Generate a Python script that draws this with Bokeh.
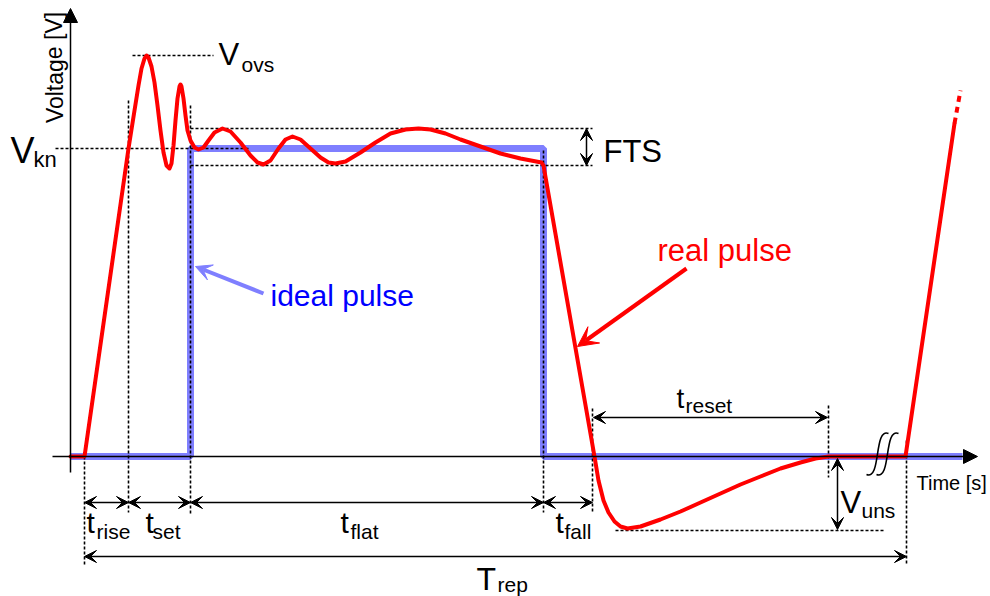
from bokeh.plotting import figure
from bokeh.models import Range1d, Arrow, VeeHead, NormalHead, ColumnDataSource
from bokeh.core.properties import value
from bokeh.embed import file_html
from bokeh.resources import INLINE

FONT = "Liberation Sans"

# ---- real pulse (time, voltage) (screen units, y grows downward)
real_t = [70, 84, 128, 134, 138, 141, 144, 146, 148, 151, 154, 157, 160, 163, 166, 169,
          171, 173, 175, 177, 179, 180, 181, 183, 185, 187, 190, 194, 198, 203, 208, 214,
          222, 230, 240, 250, 257, 263, 270, 278, 285, 292, 300, 310, 320, 328, 335, 345,
          360, 375, 390, 405, 418, 430, 445, 460, 480, 500, 520, 541, 543, 594, 598, 603,
          608, 614, 620, 627, 640, 660, 680, 700, 720, 740, 760, 780, 800, 815, 828, 905, 954]
real_v = [456, 456, 148, 110, 85, 68, 58, 55, 57, 66, 82, 105, 130, 152, 165, 168,
          163, 145, 120, 98, 86, 84, 86, 98, 115, 130, 140, 147, 149, 147, 140, 132,
          128, 131, 142, 155, 162, 164, 160, 148, 139, 136, 139, 148, 157, 162, 163, 161,
          152, 142, 133, 129, 128, 129, 133, 139, 146, 153, 158, 162, 165, 456, 480, 500,
          512, 521, 526, 528, 526, 519, 511, 502, 493, 484, 476, 468, 462, 458, 456, 456, 123]
real_cont_t = [954, 960]
real_cont_v = [123, 90]

# ---- ideal pulse
ideal_t = [70, 190, 190, 543, 543, 962]
ideal_v = [456, 456, 148, 148, 456, 456]

# ---- guide lines (dotted)
guide_x0 = [84, 128, 190, 543, 592, 828, 906, 132, 55, 190, 190, 615]
guide_y0 = [456, 100, 105, 150, 408, 405, 440, 55, 148, 128, 165, 530]
guide_x1 = [84, 128, 190, 543, 592, 828, 906, 213, 250, 592, 592, 883]
guide_y1 = [565, 512, 515, 512, 512, 477, 565, 55, 148, 128, 165, 530]

# ---- dimension arrows (FTS, Vuns, treset, trise, tset, tflat, tfall, Trep)
dim_x0 = [586, 837, 593, 84, 128, 190, 543, 84]
dim_y0 = [128, 458, 417, 502, 502, 502, 502, 556]
dim_x1 = [586, 837, 827, 128, 190, 543, 592, 906]
dim_y1 = [165, 529, 417, 502, 502, 502, 502, 556]

# ---- labels: main symbol + subscript
sym_text = ["V", "V", "t", "t", "t", "t", "T", "t", "V"]
sym_x = [218, 10, 86, 145, 340, 555, 476, 676, 840]
sym_y = [65, 162, 532, 532, 532, 532, 589, 408, 513]
sym_size = [31, 36, 30, 30, 30, 30, 32, 28, 31]
sub_text = ["ovs", "kn", "rise", "set", "flat", "fall", "rep", "reset", "uns"]
sub_x = [241, 33, 96, 152, 350, 564, 497, 685, 861]
sub_y = [71, 166, 538, 538, 538, 538, 591, 412, 517]
sub_size = [21, 22, 21, 21, 21, 21, 21, 21, 21]

plain_text = ["FTS", "real pulse", "ideal pulse", "Time [s]"]
plain_x = [603, 657, 270, 916]
plain_y = [162, 261, 305, 489]
plain_size = [31, 31, 30, 20]
plain_color = ["black", "red", "blue", "black"]

p = figure(width=990, height=596, x_range=Range1d(0, 990), y_range=Range1d(596, 0),
           output_backend="svg", toolbar_location=None,
           x_axis_location=None, y_axis_location=None,
           min_border=0, min_border_left=0, min_border_right=0,
           min_border_top=0, min_border_bottom=0)
p.grid.visible = False
p.outline_line_color = None
p.background_fill_color = "white"

# axes
p.add_layout(Arrow(end=NormalHead(size=14, fill_color="black", line_color="black"),
                   x_start=52, y_start=456, x_end=977, y_end=456, line_width=1.5))
p.add_layout(Arrow(end=NormalHead(size=14, fill_color="black", line_color="black"),
                   x_start=70, y_start=472, x_end=70, y_end=8, line_width=1.5))

# ideal pulse
p.line(ideal_t, ideal_v, line_color="blue", line_alpha=0.5, line_width=7)

# guides
p.segment(guide_x0, guide_y0, guide_x1, guide_y1, line_color="black",
          line_width=1.6, line_dash="3 2")

# real pulse
p.line(real_t, real_v, line_color="red", line_width=4, line_join="round", line_cap="round")
p.line(real_cont_t, real_cont_v, line_color="red", line_width=4, line_dash="6 5")

# break marks on time axis
p.bezier(x0=[866, 876], y0=[474, 474], x1=[888, 898], y1=[433, 433],
         cx0=[881, 891], cy0=[480, 480], cx1=[873, 883], cy1=[427, 427],
         line_color="black", line_width=1.6)

# dimension arrows
dim_src = ColumnDataSource(dict(x0=dim_x0, y0=dim_y0, x1=dim_x1, y1=dim_y1))
p.add_layout(Arrow(start=VeeHead(size=12, fill_color="black", line_color="black", line_width=1),
                   end=VeeHead(size=12, fill_color="black", line_color="black", line_width=1),
                   x_start="x0", y_start="y0", x_end="x1", y_end="y1",
                   source=dim_src, line_width=1.5))

# callout arrows
p.add_layout(Arrow(end=VeeHead(size=16, fill_color="#7f7fff", line_color="#7f7fff", line_width=1),
                   x_start=263, y_start=293, x_end=195, y_end=266,
                   line_color="#7f7fff", line_width=4))
p.add_layout(Arrow(end=VeeHead(size=20, fill_color="red", line_color="red", line_width=1),
                   x_start=686, y_start=268, x_end=577, y_end=346,
                   line_color="red", line_width=4))


def add_text(xs, ys, texts, sizes, colors, **kw):
    src = ColumnDataSource(dict(
        x=xs, y=ys, text=texts,
        size=[f"{s}px" for s in sizes],
        off=[-round(0.34 * s) for s in sizes],
        color=colors))
    p.text(x="x", y="y", text="text", source=src, text_font=value(FONT),
           text_font_size="size", y_offset="off", text_color="color",
           text_align="left", text_baseline="alphabetic", **kw)


add_text(sym_x, sym_y, sym_text, sym_size, ["black"] * len(sym_text))
add_text(sub_x, sub_y, sub_text, sub_size, ["black"] * len(sub_text))
add_text(plain_x, plain_y, plain_text, plain_size, plain_color)
p.text(x=[54], y=[67], text=["Voltage [V]"], text_font=value(FONT), text_font_size="23px",
       text_align="center", text_baseline="middle", text_color="black", angle=1.5708)

open("out.html", "w").write(file_html(p, INLINE))
